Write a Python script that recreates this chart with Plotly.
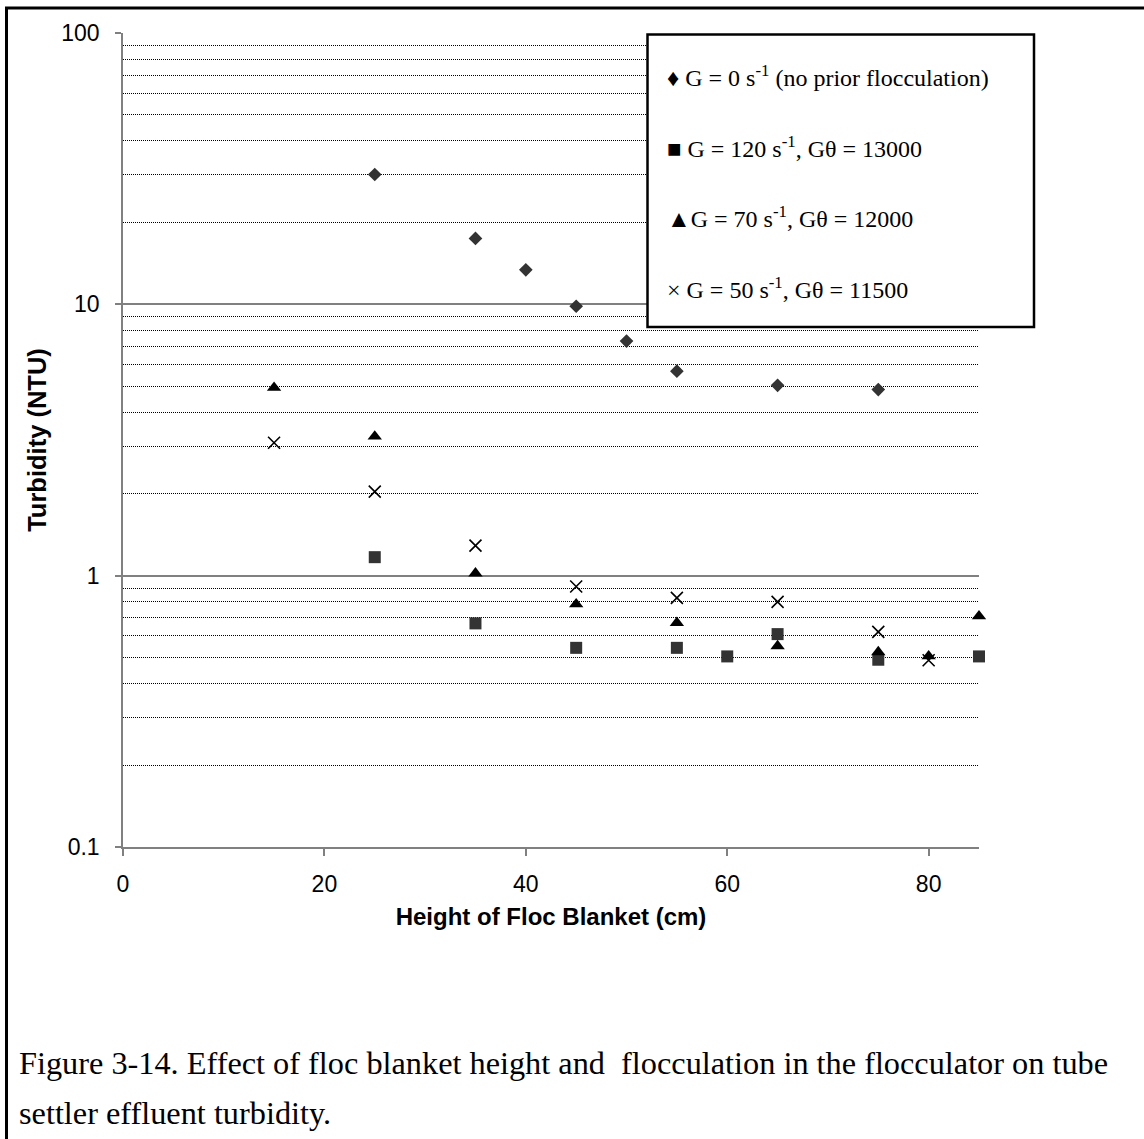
import plotly.graph_objects as go

# data
heights_g0 = [25, 35, 40, 45, 50, 55, 65, 75]
turb_g0 = [30.1, 17.5, 13.4, 9.84, 7.32, 5.67, 5.03, 4.85]

heights_g120 = [25, 35, 45, 55, 60, 65, 75, 85]
turb_g120 = [1.17, 0.667, 0.542, 0.542, 0.504, 0.609, 0.49, 0.504]

heights_g70 = [15, 25, 35, 45, 55, 65, 75, 80, 85]
turb_g70 = [4.93, 3.26, 1.02, 0.785, 0.67, 0.55, 0.523, 0.505, 0.709]

heights_g50 = [15, 25, 35, 45, 55, 65, 75, 80]
turb_g50 = [3.09, 2.04, 1.29, 0.912, 0.828, 0.801, 0.621, 0.488]

legend_lines = [
    "\u2666 G = 0 s<sup>-1</sup> (no prior flocculation)",
    "\u25a0 G = 120 s<sup>-1</sup>, G\u03b8 = 13000",
    "\u25b2G = 70 s<sup>-1</sup>, G\u03b8 = 12000",
    "\u00d7 G = 50 s<sup>-1</sup>, G\u03b8 = 11500",
]
caption_lines = [
    "Figure 3-14. Effect of floc blanket height and&nbsp; flocculation in the flocculator on tube",
    "settler effluent turbidity.",
]

W, H = 1144, 1139
L, R, T, B = 123, 165, 33, 292
PW, PH = W - L - R, H - T - B


def px(x):
    return (x - L) / PW


def py(y):
    return (H - B - y) / PH


fig = go.Figure()

fig.add_trace(go.Scatter(
    x=heights_g0, y=turb_g0, mode="markers", cliponaxis=False,
    marker=dict(symbol="diamond", size=10.5, color="#333333"),
))
fig.add_trace(go.Scatter(
    x=heights_g120, y=turb_g120, mode="markers", cliponaxis=False,
    marker=dict(symbol="square", size=12, color="#333333"),
))
fig.add_trace(go.Scatter(
    x=heights_g70, y=turb_g70, mode="markers", cliponaxis=False,
    marker=dict(symbol="triangle-up", size=12.5, color="black"),
))
fig.add_trace(go.Scatter(
    x=heights_g50, y=turb_g50, mode="markers", cliponaxis=False,
    marker=dict(symbol="x-thin-open", size=12, color="black",
                line=dict(color="black", width=1.6)),
))

axis_font = dict(family="Liberation Sans, Arial", size=23, color="black")

fig.update_xaxes(
    range=[0, 85], tick0=0, dtick=20,
    showline=True, linecolor="#808080", linewidth=1.5,
    ticks="outside", ticklen=7, tickcolor="#808080", tickwidth=1.5,
    showgrid=False, zeroline=False,
    tickfont=axis_font, ticklabelstandoff=9,
    title=dict(text="<b>Height of Floc Blanket (cm)</b>",
               font=dict(family="Liberation Sans, Arial", size=24, color="black"),
               standoff=12),
)
fig.update_yaxes(
    type="log", range=[-1, 2], dtick=1,
    showline=True, linecolor="#808080", linewidth=1.5,
    ticks="outside", ticklen=6, tickcolor="#808080", tickwidth=1.5,
    showgrid=True, gridcolor="#808080", gridwidth=1.5,
    zeroline=False,
    tickfont=axis_font, ticklabelstandoff=11,
    minor=dict(dtick="D1", showgrid=True, gridcolor="black",
               gridwidth=1, griddash="1px,1px", ticks=""),
    title=dict(text="<b>Turbidity (NTU)</b>",
               font=dict(family="Liberation Sans, Arial", size=25.5, color="black"),
               standoff=7),
)

shapes = [
    # text box holding the key
    dict(type="rect", xref="paper", yref="paper",
         x0=px(647.5), x1=px(1034), y0=py(327), y1=py(34.5),
         fillcolor="white", line=dict(color="black", width=2.5), layer="above"),
    # outer frame of the figure
    dict(type="path", xref="paper", yref="paper",
         path=f"M {px(6.5)},{py(H + 5)} L {px(6.5)},{py(8)} L {px(W + 5)},{py(8)}",
         line=dict(color="black", width=3)),
]

annotations = []
for i, txt in enumerate(legend_lines):
    annotations.append(dict(
        text=txt, xref="paper", yref="paper",
        x=px(665), y=py(76 + i * 70.5), xanchor="left", yanchor="middle",
        showarrow=False, align="left",
        font=dict(family="Liberation Serif, Times New Roman", size=24, color="black"),
    ))
for i, txt in enumerate(caption_lines):
    annotations.append(dict(
        text=txt, xref="paper", yref="paper",
        x=px(18), y=py(1063 + i * 50), xanchor="left", yanchor="middle",
        showarrow=False, align="left", borderpad=0,
        font=dict(family="Liberation Serif, Times New Roman", size=32.3, color="black"),
    ))

fig.update_layout(
    width=W, height=H, template="none",
    margin=dict(l=L, r=R, t=T, b=B, pad=0),
    paper_bgcolor="white", plot_bgcolor="white",
    showlegend=False,
    shapes=shapes, annotations=annotations,
)

fig.write_html("out.html", config={"displayModeBar": False},
               post_script="document.body.style.margin='0px';")
